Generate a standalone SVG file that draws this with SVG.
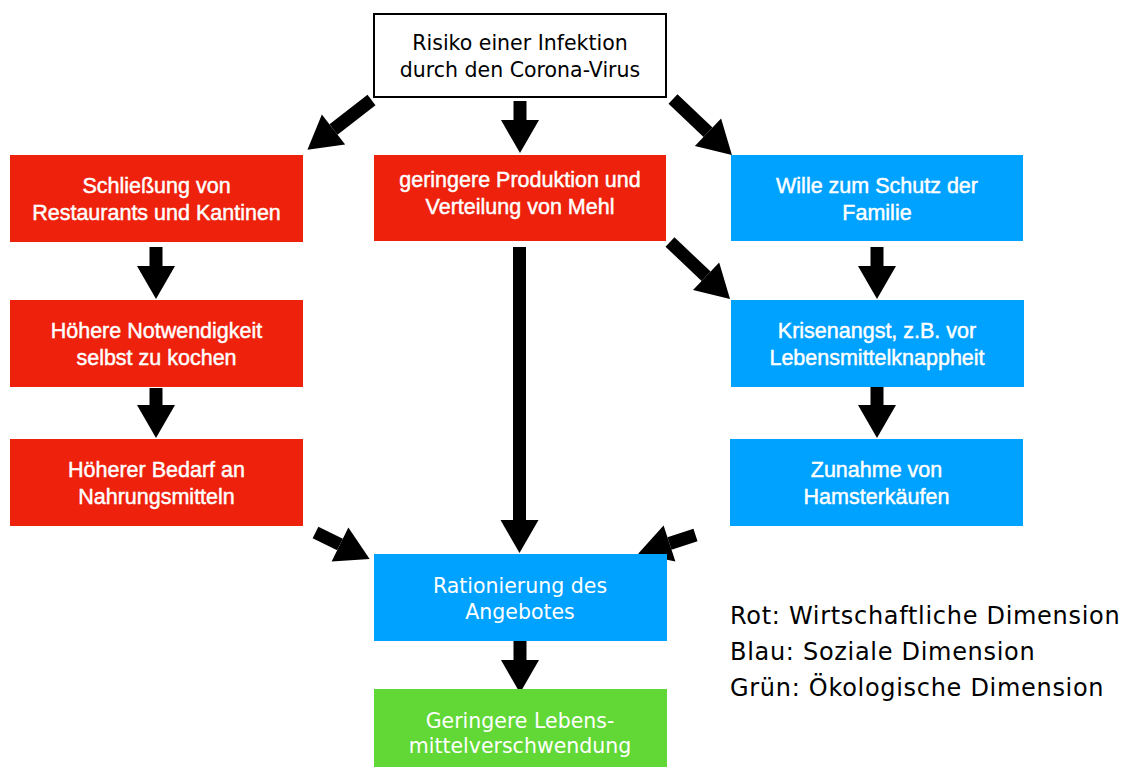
<svg xmlns="http://www.w3.org/2000/svg" width="1133" height="767" viewBox="0 0 1133 767">
<defs>
<style>
.red{fill:#EE220C}
.blue{fill:#00A2FF}
.green{fill:#61D836}
.h{font-family:"Liberation Sans",Arial,sans-serif;font-size:21.5px;fill:#fff;stroke:#fff;stroke-width:0.45px;text-anchor:middle}
.l{font-family:"DejaVu Sans",sans-serif;font-size:20.5px;text-anchor:middle}
.w{fill:#fff}
.k{fill:#000}
.leg{font-family:"DejaVu Sans",sans-serif;font-size:24px;letter-spacing:0.7px;fill:#000}
.c line{stroke:#000;stroke-width:13;marker-end:url(#ah)}
</style>
<marker id="ah" markerUnits="userSpaceOnUse" markerWidth="34" markerHeight="39" refX="0" refY="19" orient="auto" overflow="visible">
<path d="M0,0 L33,19 L0,38 Z" fill="#000"/>
</marker>
</defs>
<rect width="1133" height="767" fill="#fff"/>
<g class="c" id="connectors">
<line x1="520" y1="101" x2="520" y2="120"/>
<line x1="371.5" y1="100" x2="333.5" y2="129.5"/>
<line x1="673" y1="99" x2="708" y2="132.3"/>
<line x1="156" y1="247" x2="156" y2="266"/>
<line x1="156" y1="388" x2="156" y2="405"/>
<line x1="877" y1="247" x2="877" y2="266"/>
<line x1="877" y1="387" x2="877" y2="405"/>
<line x1="670" y1="242" x2="706.1" y2="276.3"/>
<line x1="519.5" y1="247" x2="519.5" y2="520"/>
<line x1="315.5" y1="532.5" x2="340" y2="544.5"/>
<line x1="695.5" y1="535" x2="669.5" y2="543.5"/>
<line x1="520" y1="641" x2="520" y2="660"/>
</g>
<g id="top">
<rect x="374" y="14" width="292" height="83" fill="#fff" stroke="#000" stroke-width="2"/>
<text class="l k" x="520" y="50">Risiko einer Infektion</text>
<text class="l k" x="520" y="77">durch den Corona-Virus</text>
</g>
<g id="schliessung">
<rect class="red" x="10" y="155" width="293" height="87"/>
<text class="h" x="156.5" y="193">Schließung von</text>
<text class="h" x="156.5" y="220">Restaurants und Kantinen</text>
</g>
<g id="produktion">
<rect class="red" x="374" y="155" width="292" height="86"/>
<text class="h" x="520" y="187">geringere Produktion und</text>
<text class="h" x="520" y="214">Verteilung von Mehl</text>
</g>
<g id="wille">
<rect class="blue" x="731" y="155" width="292" height="86"/>
<text class="h" x="877" y="193">Wille zum Schutz der</text>
<text class="h" x="877" y="220">Familie</text>
</g>
<g id="notwendigkeit">
<rect class="red" x="10" y="300" width="293" height="87"/>
<text class="h" x="156.5" y="338">Höhere Notwendigkeit</text>
<text class="h" x="156.5" y="365">selbst zu kochen</text>
</g>
<g id="krisenangst">
<rect class="blue" x="731" y="300" width="293" height="87"/>
<text class="h" x="877" y="338">Krisenangst, z.B. vor</text>
<text class="h" x="877" y="365">Lebensmittelknappheit</text>
</g>
<g id="bedarf">
<rect class="red" x="10" y="439" width="293" height="87"/>
<text class="h" x="156.5" y="477">Höherer Bedarf an</text>
<text class="h" x="156.5" y="504">Nahrungsmitteln</text>
</g>
<g id="hamster">
<rect class="blue" x="730" y="439" width="293" height="87"/>
<text class="h" x="876.5" y="477">Zunahme von</text>
<text class="h" x="876.5" y="504">Hamsterkäufen</text>
</g>
<g id="rationierung">
<rect class="blue" x="374" y="554" width="293" height="87"/>
<text class="l w" x="520" y="593">Rationierung des</text>
<text class="l w" x="520" y="619">Angebotes</text>
</g>
<g id="verschwendung">
<rect class="green" x="374" y="689" width="293" height="78"/>
<text class="l w" x="520" y="728">Geringere Lebens-</text>
<text class="l w" x="520" y="753">mittelverschwendung</text>
</g>
<g id="legend">
<text class="leg" x="730" y="624">Rot: Wirtschaftliche Dimension</text>
<text class="leg" x="730" y="660">Blau: Soziale Dimension</text>
<text class="leg" x="730" y="696">Grün: Ökologische Dimension</text>
</g>
</svg>
